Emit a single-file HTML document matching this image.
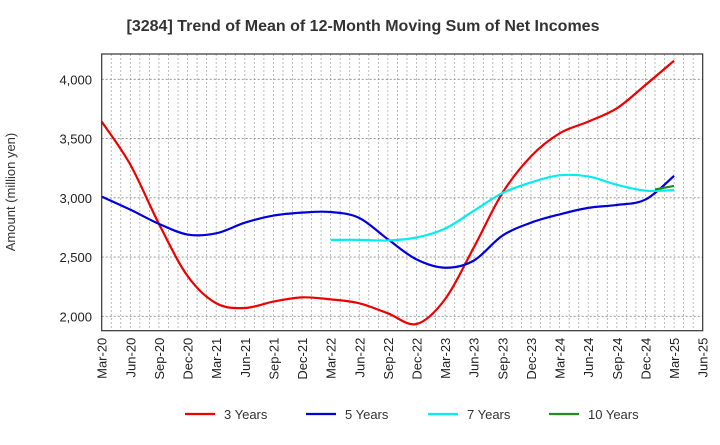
<!DOCTYPE html>
<html><head><meta charset="utf-8"><style>
body{margin:0;background:#fff;font-family:"Liberation Sans",sans-serif}
svg text{font-family:"Liberation Sans",sans-serif}
</style></head><body>
<svg id="c" width="720" height="440" xmlns="http://www.w3.org/2000/svg">
<text x="363" y="31" text-anchor="middle" font-size="16" font-weight="bold" fill="#333">[3284]  Trend of Mean of 12-Month Moving Sum of Net Incomes</text>
<text transform="translate(15,192) rotate(-90)" text-anchor="middle" font-size="13" fill="#333">Amount (million yen)</text>
<g id="grid"></g><g id="series"></g><g id="axes"></g><g id="legend"></g>
</svg>
<script>
const xLabels=["Mar-20","Jun-20","Sep-20","Dec-20","Mar-21","Jun-21","Sep-21","Dec-21","Mar-22","Jun-22","Sep-22","Dec-22","Mar-23","Jun-23","Sep-23","Dec-23","Mar-24","Jun-24","Sep-24","Dec-24","Mar-25","Jun-25"];
const yTicks=[2000,2500,3000,3500,4000];
const s3=[3643,3280,2780,2340,2110,2070,2124,2160,2143,2110,2025,1935,2145,2580,3040,3350,3544,3643,3755,3952,4157];
const s5=[3010,2900,2780,2690,2700,2790,2850,2875,2880,2830,2650,2480,2410,2470,2680,2790,2860,2915,2940,2985,3185];
const s7=[2645,2645,2640,2665,2740,2890,3040,3130,3190,3180,3110,3060,3065];
const s7Start=8;
const s10=[3070,3100];
const s10Months=[58,60];
const L=101.7,R=702.7,T=54,B=330.7;
const x=m=>L+(R-L)*m/63;
const y=v=>79.3+(4000-v)*0.1185;
const NS="http://www.w3.org/2000/svg";
function mk(t,a,p){const e=document.createElementNS(NS,t);for(const k in a)e.setAttribute(k,a[k]);p.appendChild(e);return e;}
const grid=document.getElementById('grid'),axes=document.getElementById('axes'),ser=document.getElementById('series'),leg=document.getElementById('legend');
for(let m=1;m<63;m++){const g=mk('line',{x1:x(m),x2:x(m),y1:T,y2:B,stroke:'#aaa','stroke-dasharray':'2,2','stroke-width':0.8},grid);

}
yTicks.forEach(v=>{const g=mk('line',{x1:L,x2:R,y1:y(v),y2:y(v),stroke:'#888','stroke-dasharray':'2,2','stroke-width':0.9},grid);


const t=mk('text',{x:92,y:y(v)+5,'text-anchor':'end','font-size':13,fill:'#222'},axes);t.textContent=v.toLocaleString('en-US');

});
const fr=mk('rect',{x:L,y:T,width:R-L,height:B-T,fill:'none',stroke:'#333','stroke-width':1.2},axes);


xLabels.forEach((l,i)=>{const xx=x(i*3);const t=mk('text',{transform:`translate(${xx+5},${B+7}) rotate(-90)`,'text-anchor':'end','font-size':13,fill:'#222'},axes);t.textContent=l;

});
function path(pts){let d=`M${pts[0][0]},${pts[0][1]}`;for(let i=0;i<pts.length-1;i++){const p0=pts[Math.max(i-1,0)],p1=pts[i],p2=pts[i+1],p3=pts[Math.min(i+2,pts.length-1)];
const c1=[p1[0]+(p2[0]-p0[0])/6,p1[1]+(p2[1]-p0[1])/6],c2=[p2[0]-(p3[0]-p1[0])/6,p2[1]-(p3[1]-p1[1])/6];d+=` C${c1} ${c2} ${p2}`;}return d;}
function draw(vals,months,color,name){const pts=vals.map((v,i)=>[x(months[i]),y(v)]);const p=mk('path',{d:path(pts),fill:'none',stroke:color,'stroke-width':2.2},ser);

}
draw(s3,s3.map((_,i)=>i*3),'#ee0000','series-3-years');
draw(s5,s5.map((_,i)=>i*3),'#0000dd','series-5-years');
draw(s7,s7.map((_,i)=>(s7Start+i)*3),'#00eeee','series-7-years');
draw(s10,s10Months,'#228B22','series-10-years');
const items=[["3 Years","#ee0000",185],["5 Years","#0000dd",306],["7 Years","#00eeee",428],["10 Years","#228B22",549]];
items.forEach(([n,c,lx])=>{const l=mk('line',{x1:lx,x2:lx+30,y1:414,y2:414,stroke:c,'stroke-width':2.2},leg);


const t=mk('text',{x:lx+39,y:419,'font-size':13,fill:'#333'},leg);t.textContent=n;

});
</script>
</body></html>
